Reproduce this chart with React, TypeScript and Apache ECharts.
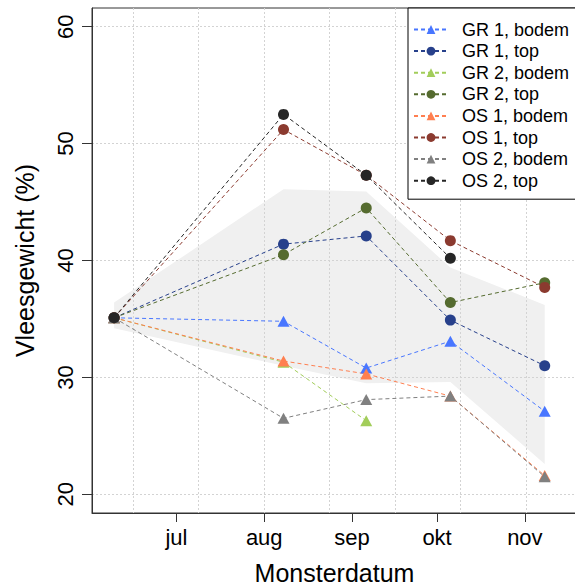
import React, { useEffect, useRef } from 'react';
import * as echarts from 'echarts';

const FONT = "'Liberation Sans', Arial, Helvetica, sans-serif";

// Sampling dates as day of the year (0 = 1 January)
const sampleDays = [159, 218.8, 248, 277.7, 311];

const seriesNames = [
  'GR 1, bodem',
  'GR 1, top',
  'GR 2, bodem',
  'GR 2, top',
  'OS 1, bodem',
  'OS 1, top',
  'OS 2, bodem',
  'OS 2, top',
];

const gr1Bodem = [35.1, 34.8, 30.8, 33.1, 27.1];
const gr1Top = [35.1, 41.4, 42.1, 34.9, 31.0];
const gr2Bodem = [35.1, 31.3, 26.3, null, null];
const gr2Top = [35.1, 40.5, 44.5, 36.4, 38.1];
const os1Bodem = [35.1, 31.4, 30.3, 28.4, 21.6];
const os1Top = [35.1, 51.2, 47.3, 41.7, 37.7];
const os2Bodem = [35.1, 26.5, 28.1, 28.4, 21.5];
const os2Top = [35.1, 52.5, 47.3, 40.2, null];

// shaded reference band
const bandUpper = [36.4, 46.1, 45.9, 39.4, 36.2];
const bandLower = [34.2, 31.0, 29.5, 29.6, 22.6];

// axis ticks
const monthStartDays = [181, 212, 243, 273, 304];
const monthLabels = ['jul', 'aug', 'sep', 'okt', 'nov'];
const yTicks = [20, 30, 40, 50, 60];

// vertical dotted grid: every 2e6 s (~23.15 days)
const gridStartDay = 165.6;
const gridStepDays = 23.15;

const xMinDay = 151.2;
const xMaxDay = 322.4;
const yMin = 18.4;
const yMax = 61.6;

const seriesValues = [gr1Bodem, gr1Top, gr2Bodem, gr2Top, os1Bodem, os1Top, os2Bodem, os2Top];
const seriesColors = ['#4876FF', '#27408B', '#A2CD5A', '#556B2F', '#FF7F50', '#8B3A2F', '#808080', '#262626'];
const seriesSymbols = ['triangle', 'circle', 'triangle', 'circle', 'triangle', 'circle', 'triangle', 'circle'];

export default function App() {
  const ref = useRef<HTMLDivElement>(null);

  useEffect(() => {
    document.body.style.margin = '0';
    if (!ref.current) return;
    const chart = echarts.init(ref.current, undefined, { renderer: 'svg' });

    const gridLine = { color: '#d3d3d3', type: [2, 2] as number[], width: 1 };

    const lineSeries = seriesNames.map((name, si) => ({
      type: 'line',
      name,
      xAxisIndex: 0,
      yAxisIndex: 0,
      data: sampleDays
        .map((d, i) => [d, seriesValues[si][i]])
        .filter((p) => p[1] !== null),
      symbol: seriesSymbols[si],
      symbolSize: seriesSymbols[si] === 'circle' ? 11 : [12, 11],
      showSymbol: true,
      lineStyle: { color: seriesColors[si], width: 1, type: [4, 3] },
      itemStyle: { color: seriesColors[si], borderWidth: 0 },
      emphasis: { disabled: true },
      z: 2,
    }));

    const bandSeries = {
      type: 'custom',
      name: 'band',
      xAxisIndex: 0,
      yAxisIndex: 0,
      silent: true,
      z: -1,
      data: [[sampleDays[0], bandUpper[0]]],
      renderItem: (_params: any, api: any) => {
        const top = sampleDays.map((d, i) => api.coord([d, bandUpper[i]]));
        const bottom = sampleDays.map((d, i) => api.coord([d, bandLower[i]])).reverse();
        return {
          type: 'polygon',
          shape: { points: top.concat(bottom) },
          style: { fill: '#F0F0F0' },
        };
      },
    };

    chart.setOption({
      animation: false,
      textStyle: { fontFamily: FONT },
      grid: {
        left: 92,
        top: 8,
        right: -2,
        bottom: 74,
        containLabel: false,
        outerBoundsMode: 'none',
        show: true,
        borderColor: '#333',
        borderWidth: 1,
        backgroundColor: 'transparent',
      },
      legend: {
        data: seriesNames,
        orient: 'vertical',
        left: 408,
        top: 8,
        padding: [12.5, 25, 9.5, 5],
        itemWidth: 34,
        itemHeight: 11,
        itemGap: 3.6,
        backgroundColor: '#ffffff',
        borderColor: '#000000',
        borderWidth: 1,
        selectedMode: false,
        textStyle: { fontSize: 18, fontFamily: FONT, color: '#000', padding: [0, 0, 0, 9] },
      },
      xAxis: [
        {
          type: 'value',
          min: xMinDay,
          max: xMaxDay,
          axisLine: { show: true, onZero: false, lineStyle: { color: '#333', width: 1 } },
          axisTick: { show: true, customValues: monthStartDays, length: 9, lineStyle: { color: '#333' } },
          axisLabel: {
            customValues: monthStartDays,
            formatter: (v: number) => monthLabels[monthStartDays.indexOf(v)] ?? '',
            margin: 13.5,
            fontSize: 22,
            color: '#000',
            fontFamily: FONT,
          },
          splitLine: { show: false },
          name: 'Monsterdatum',
          nameLocation: 'middle',
          nameGap: 47,
          nameMoveOverlap: false,
          nameTextStyle: { fontSize: 25, color: '#000', fontFamily: FONT },
        },
        {
          type: 'value',
          min: (xMinDay - gridStartDay) / gridStepDays,
          max: (xMaxDay - gridStartDay) / gridStepDays,
          splitNumber: 7,
          axisLine: { show: false, onZero: false },
          axisTick: { show: false },
          axisLabel: { show: false },
          splitLine: { show: true, lineStyle: gridLine },
        },
      ],
      yAxis: {
        type: 'value',
        min: yMin,
        max: yMax,
        axisLine: { show: true, onZero: false, lineStyle: { color: '#333', width: 1 } },
        axisTick: { show: true, customValues: yTicks, length: 10, lineStyle: { color: '#333' } },
        axisLabel: {
          customValues: yTicks,
          rotate: 90,
          margin: 16,
          fontSize: 22,
          color: '#000',
          fontFamily: FONT,
        },
        splitLine: { show: true, lineStyle: gridLine },
        name: 'Vleesgewicht (%)',
        nameLocation: 'middle',
        nameGap: 54.6,
        nameRotate: 90,
        nameMoveOverlap: false,
        nameTextStyle: { fontSize: 25, color: '#000', fontFamily: FONT },
      },
      series: [bandSeries, ...lineSeries],
    });

    return () => {
      chart.dispose();
    };
  }, []);

  return <div ref={ref} style={{ width: 575, height: 587 }} />;
}
